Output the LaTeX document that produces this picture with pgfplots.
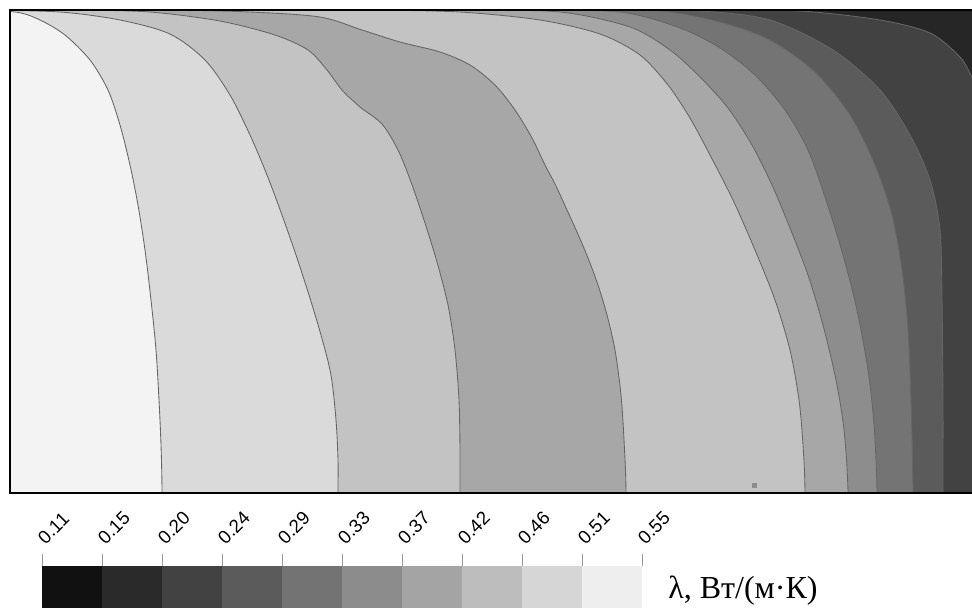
\documentclass[border=0pt]{standalone}
\usepackage{fontspec}
\setmainfont{Liberation Sans}
\newfontfamily\serifL{Liberation Serif}
\usepackage{pgfplots}
\pgfplotsset{compat=1.18}
\definecolor{rA}{HTML}{F3F3F3}
\definecolor{rB}{HTML}{DADADA}
\definecolor{rC}{HTML}{C3C3C3}
\definecolor{rD}{HTML}{A7A7A7}
\definecolor{rE}{HTML}{C3C3C3}
\definecolor{rF}{HTML}{A7A7A7}
\definecolor{rG}{HTML}{8D8D8D}
\definecolor{rH}{HTML}{747474}
\definecolor{rI}{HTML}{5B5B5B}
\definecolor{rJ}{HTML}{424242}
\definecolor{rK}{HTML}{262626}
\definecolor{cl}{HTML}{666666}
\definecolor{k1}{HTML}{111111}
\definecolor{k2}{HTML}{2A2A2A}
\definecolor{k3}{HTML}{424242}
\definecolor{k4}{HTML}{5B5B5B}
\definecolor{k5}{HTML}{737373}
\definecolor{k6}{HTML}{8C8C8C}
\definecolor{k7}{HTML}{A4A4A4}
\definecolor{k8}{HTML}{BDBDBD}
\definecolor{k9}{HTML}{D6D6D6}
\definecolor{k10}{HTML}{EEEEEE}
\begin{document}
\begin{tikzpicture}
\useasboundingbox (0,0) rectangle (729pt,456pt);
\begin{axis}[
  at={(7.5pt,87pt)}, anchor=south west,
  scale only axis, width=721.5pt, height=361.5pt,
  xmin=10, xmax=972, ymin=10, ymax=492, y dir=reverse,
  hide axis, clip mode=individual,
  every axis plot/.append style={smooth, tension=0.5, line width=0.65pt, draw=cl}
]
% background (top-right corner region)
\addplot[fill=rK, draw=none, sharp plot] coordinates {(0,0) (1000,0) (1000,600) (0,600)};
% curve J
\addplot[fill=rJ] coordinates {(-100,9) (200,9) (500,9) (700,9.5) (800,11) (880,20) (930,33) (960,57) (972,77) (985,100) (990,300) (990,600) (-100,600)};
% curve I
\addplot[fill=rI] coordinates {(-100,9) (200,9) (450,9) (600,9.5) (700,11) (770,20) (833,50) (880,90) (910,135) (930,180) (940,230) (942,300) (943,400) (943,492) (943,600) (-100,600)};
% curve H
\addplot[fill=rH] coordinates {(-100,9) (150,9) (400,9) (560,9.5) (660,11) (720,22) (770,40) (815,72) (850,115) (875,165) (892,215) (902,270) (908,330) (911,400) (913,492) (913,600) (-100,600)};
% curve G
\addplot[fill=rG] coordinates {(-100,9) (150,9) (350,9) (520,10) (620,12) (680,28) (720,48) (755,75) (785,110) (808,150) (826,200) (843,255) (857,310) (868,370) (874,425) (877,492) (877,600) (-100,600)};
% curve F
\addplot[fill=rF] coordinates {(-100,9) (100,9) (300,9) (460,10) (560,12) (630,27) (670,50) (700,77) (728,108) (752,145) (772,185) (790,228) (808,275) (823,325) (836,380) (844,430) (848,492) (848,600) (-100,600)};
% curve E
\addplot[fill=rE] coordinates {(-100,9) (100,9) (250,9) (370,10) (460,12) (540,20) (600,34) (640,55) (668,85) (690,118) (710,155) (733,200) (755,250) (775,300) (790,350) (799,400) (803,445) (805,492) (805,600) (-100,600)};
% curve D
\addplot[fill=rD] coordinates {(-100,9) (50,9) (170,10) (250,12) (320,17) (362,30) (400,42) (440,52) (470,65) (495,85) (515,110) (532,138) (545,165) (556,186) (567,210) (577,232) (588,258) (598,285) (607,315) (615,350) (621,395) (624,440) (626,492) (626,600) (-100,600)};
% curve C
\addplot[fill=rC] coordinates {(-100,9) (0,9) (80,10) (150,12) (220,21) (275,35) (308,50) (327,70) (342,90) (360,107) (382,124) (398,150) (411,182) (424,220) (437,262) (448,305) (455,350) (459,400) (460,450) (460,492) (460,600) (-100,600)};
% curve B
\addplot[fill=rB] coordinates {(-100,9) (-20,10) (60,12) (120,20) (170,34) (205,60) (230,95) (250,135) (267,175) (282,215) (296,255) (309,295) (321,335) (331,375) (336,420) (338,460) (338,492) (338,600) (-100,600)};
% curve A
\addplot[fill=rA] coordinates {(-100,9) (-40,10) (15,12) (40,20) (65,35) (90,60) (108,90) (120,125) (130,165) (138,205) (145,250) (151,300) (156,350) (159,400) (161,445) (162,492) (162,600) (-100,600)};
% small dot
\addplot[only marks, mark=square*, mark size=1.5pt, color=gray!90, draw=none] coordinates {(754,485)};
\draw[line width=1.5pt, black] (axis cs:972,10) -- (axis cs:10,10) -- (axis cs:10,493) -- (axis cs:972,493);
\end{axis}
\begin{axis}[
  at={(31.5pt,0pt)}, anchor=south west,
  scale only axis, width=450pt, height=31.5pt,
  xmin=0, xmax=10, ymin=0, ymax=1,
  axis line style={draw=none},
  ytick=\empty,
  xtick={0,1,2,3,4,5,6,7,8,9,10},
  xticklabels={0.11,0.15,0.20,0.24,0.29,0.33,0.37,0.42,0.46,0.51,0.55},
  xtick pos=right, xticklabel pos=right,
  tick align=outside, major tick length=9pt,
  tick style={color=gray!80, line width=0.6pt},
  xticklabel style={rotate=45, anchor=south west, font=\fontsize{14}{14}\selectfont, xshift=3pt, yshift=-1pt},
]
\addplot[fill=k1, draw=none] coordinates {(0,0) (1,0) (1,1) (0,1)};
\addplot[fill=k2, draw=none] coordinates {(1,0) (2,0) (2,1) (1,1)};
\addplot[fill=k3, draw=none] coordinates {(2,0) (3,0) (3,1) (2,1)};
\addplot[fill=k4, draw=none] coordinates {(3,0) (4,0) (4,1) (3,1)};
\addplot[fill=k5, draw=none] coordinates {(4,0) (5,0) (5,1) (4,1)};
\addplot[fill=k6, draw=none] coordinates {(5,0) (6,0) (6,1) (5,1)};
\addplot[fill=k7, draw=none] coordinates {(6,0) (7,0) (7,1) (6,1)};
\addplot[fill=k8, draw=none] coordinates {(7,0) (8,0) (8,1) (7,1)};
\addplot[fill=k9, draw=none] coordinates {(8,0) (9,0) (9,1) (8,1)};
\addplot[fill=k10, draw=none] coordinates {(9,0) (10,0) (10,1) (9,1)};
\end{axis}
\node[anchor=base west, font=\serifL\fontsize{24}{24}\selectfont, inner sep=0pt] at (501pt,7.5pt) {λ, Вт/(м·К)};
\end{tikzpicture}
\end{document}
